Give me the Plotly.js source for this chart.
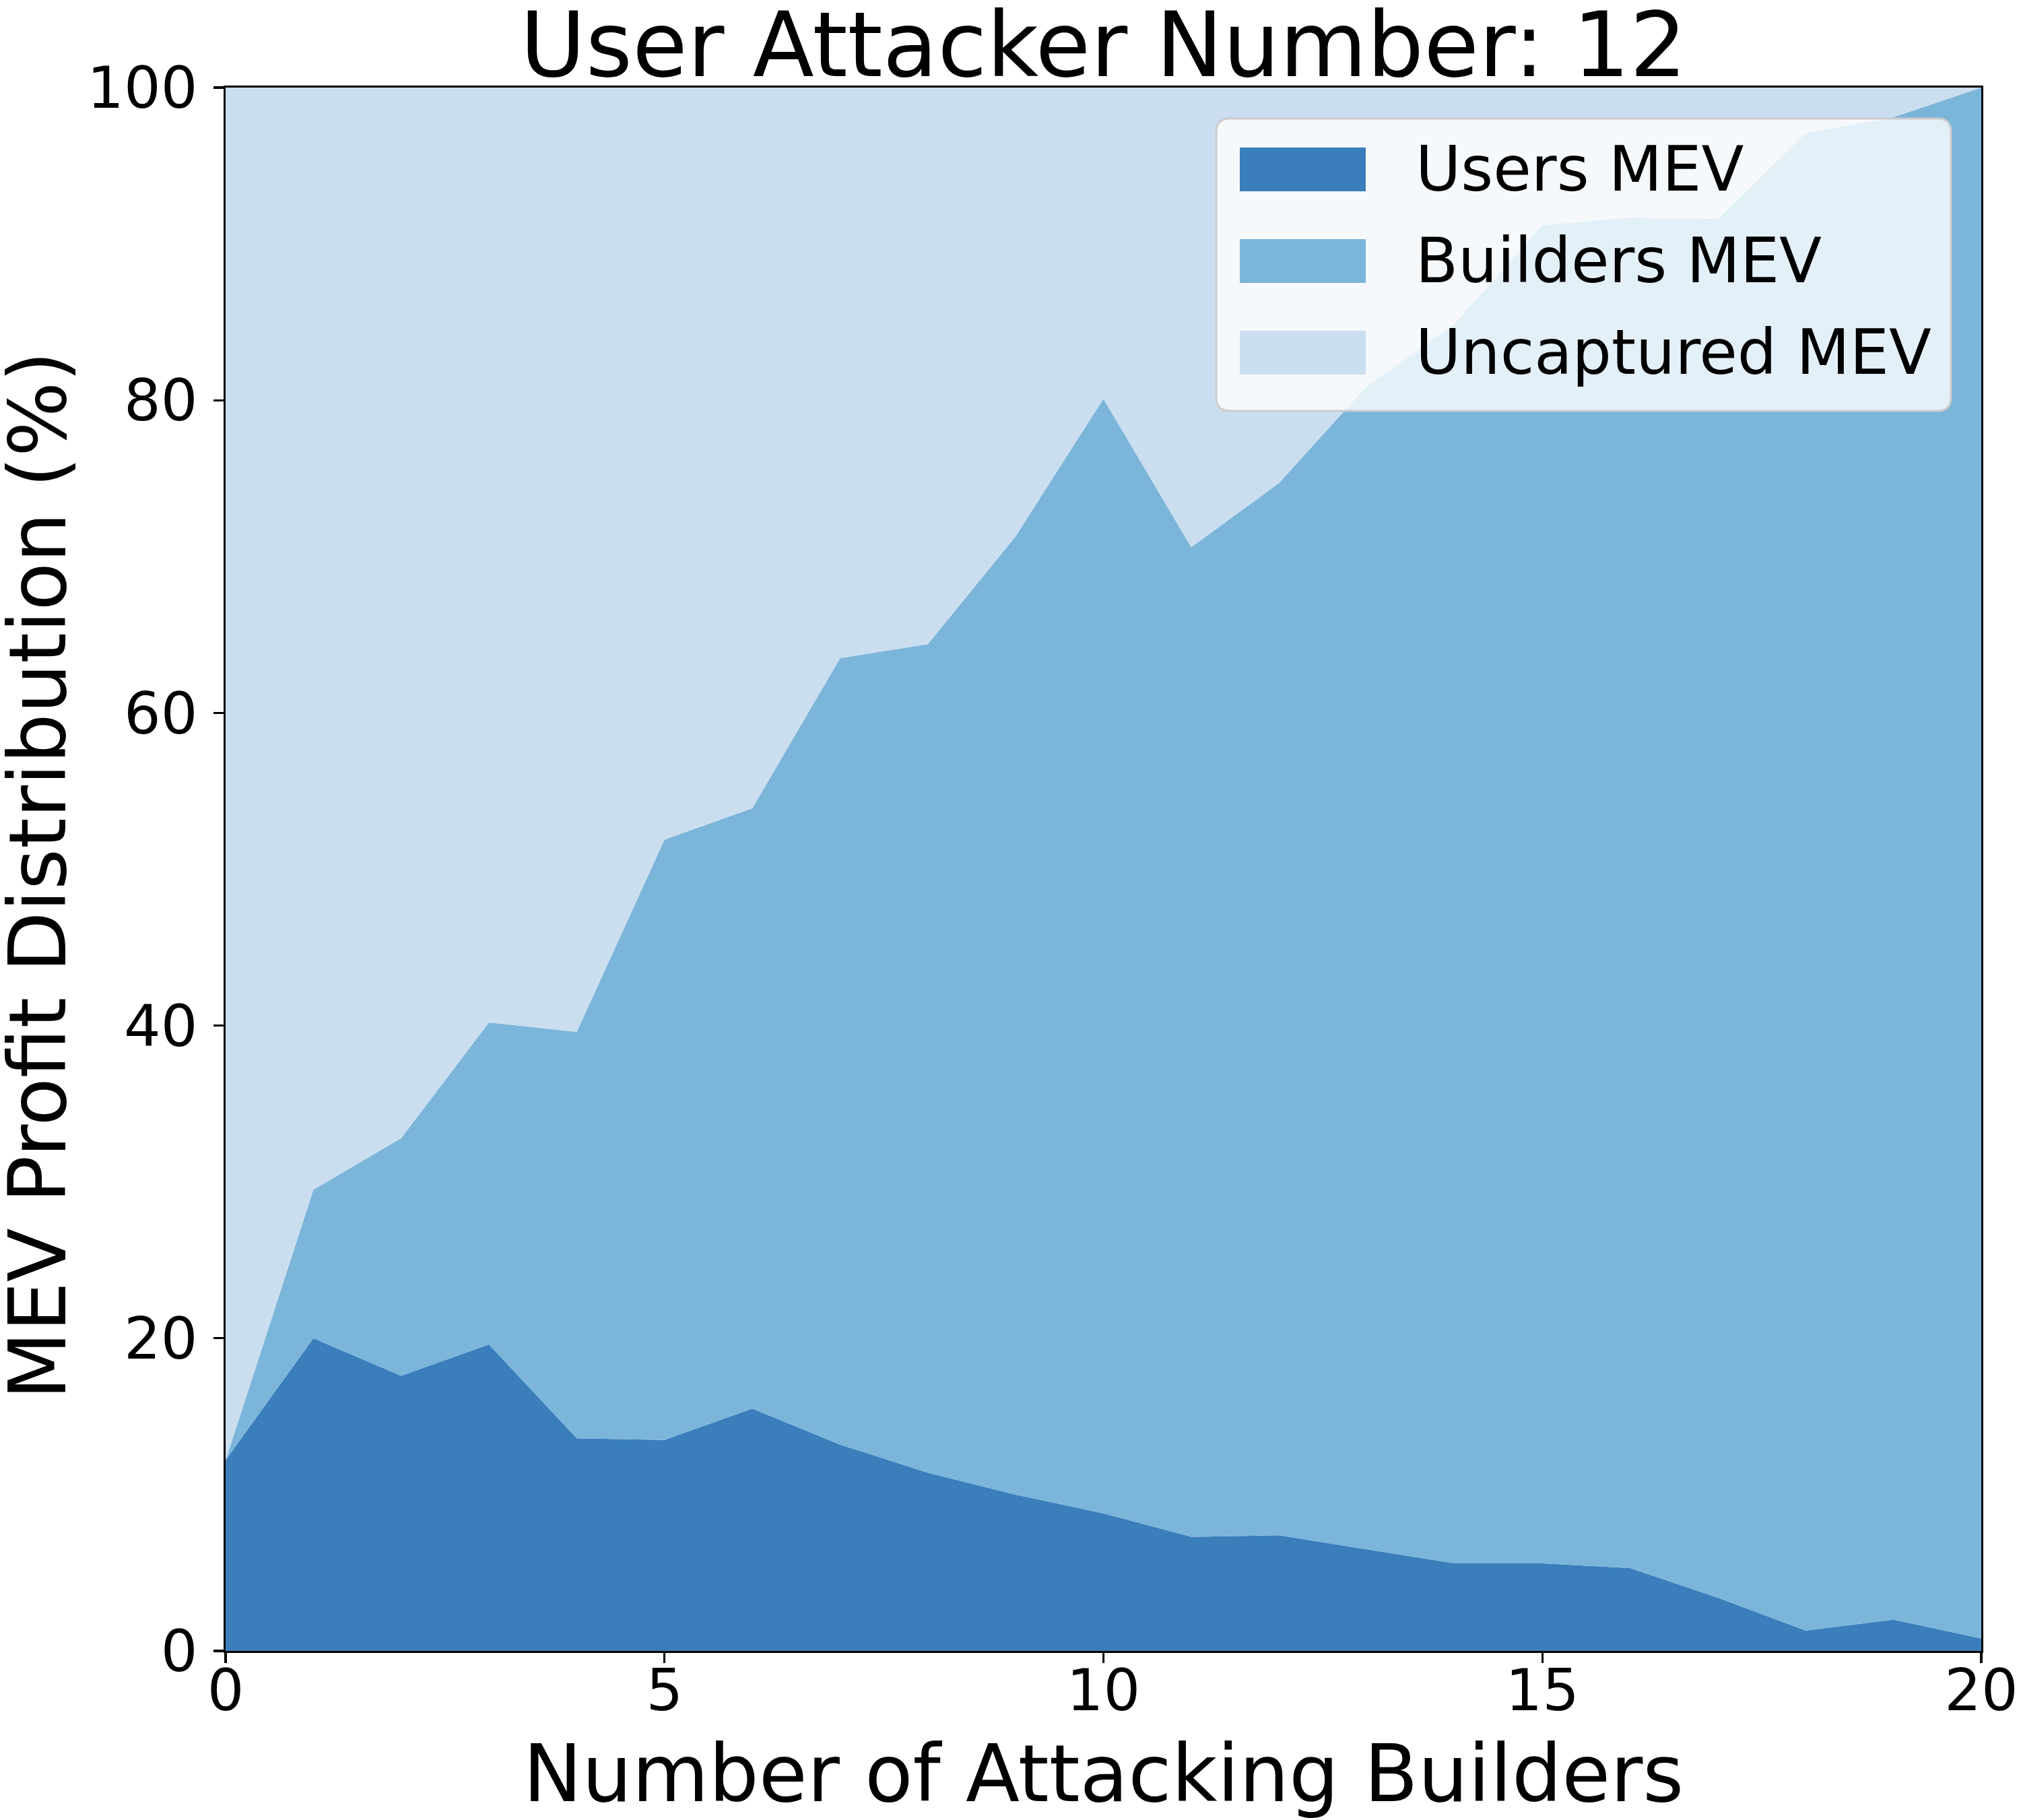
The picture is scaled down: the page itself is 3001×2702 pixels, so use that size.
<!DOCTYPE html>
<html>
<head>
<meta charset="utf-8">
<script src="https://cdn.plot.ly/plotly-3.0.1.min.js"></script>
<style>html,body{margin:0;padding:0;background:#fff;}#chart{width:3001px;height:2702px;}</style>
</head>
<body>
<div id="chart"></div>
<script>
// ---- data ----
const attackingBuilders = [0,1,2,3,4,5,6,7,8,9,10,11,12,13,14,15,16,17,18,19,20];
const usersMEV      = [12.2, 20.0, 17.6, 19.6, 13.6, 13.5, 15.5, 13.2, 11.4, 10.0, 8.8, 7.3, 7.4, 6.5, 5.6, 5.6, 5.3, 3.4, 1.3, 2.0, 0.8];
const buildersMEV   = [0.0, 9.5, 15.2, 20.6, 26.0, 38.4, 38.4, 50.3, 53.0, 61.3, 71.3, 63.3, 67.3, 74.4, 79.3, 85.6, 86.4, 88.2, 95.8, 96.1, 99.2];
const uncapturedMEV = [87.8, 70.5, 67.2, 59.8, 60.4, 48.1, 46.1, 36.5, 35.6, 28.7, 19.9, 29.4, 25.3, 19.1, 15.1, 8.8, 8.3, 8.4, 2.9, 1.9, 0.0];
const seriesNames = ["Users MEV", "Builders MEV", "Uncaptured MEV"];
const xTicks = [0, 5, 10, 15, 20];
const yTicks = [0, 20, 40, 60, 80, 100];
const titleText = "User Attacker Number: 12";
const xTitle = "Number of Attacking Builders";
const yTitle = "MEV Profit Distribution (%)";

// ---- styling ----
const colors = ["#3a7ebb", "#7bb5da", "#cbdeef"];
const FONT = "DejaVu Sans";
const W = 3001, H = 2702;
const L = 335, R = 2942, T = 130, B = 2451;
const px2x = p => (p - L) / (R - L);
const px2y = p => (B - p) / (B - T);

const seriesData = [usersMEV, buildersMEV, uncapturedMEV];
const traces = seriesData.map((vals, i) => ({
  type: "scatter",
  x: attackingBuilders,
  y: vals,
  name: seriesNames[i],
  stackgroup: "one",
  mode: "none",
  line: {width: 0},
  fillcolor: colors[i],
  showlegend: false,
  hoverinfo: "x+y+name"
}));

// custom legend (matplotlib style)
const lx0 = px2x(1806), lx1 = px2x(2897), ly0 = px2y(610), ly1 = px2y(176);
const rx = 20 / (R - L), ry = 20 / (B - T);
const boxPath = `M ${lx0+rx},${ly1} L ${lx1-rx},${ly1} Q ${lx1},${ly1} ${lx1},${ly1-ry} ` +
  `L ${lx1},${ly0+ry} Q ${lx1},${ly0} ${lx1-rx},${ly0} L ${lx0+rx},${ly0} Q ${lx0},${ly0} ${lx0},${ly0+ry} ` +
  `L ${lx0},${ly1-ry} Q ${lx0},${ly1} ${lx0+rx},${ly1} Z`;
const shapes = [{
  type: "path", xref: "paper", yref: "paper", path: boxPath,
  fillcolor: "rgba(255,255,255,0.8)", line: {color: "#cccccc", width: 3}, layer: "above"
}];
const patchTops = [219, 355, 491];
const annotations = [];
seriesNames.forEach((nm, i) => {
  const t = patchTops[i], b = t + 65;
  shapes.push({type: "rect", xref: "paper", yref: "paper",
    x0: px2x(1841), x1: px2x(2028), y0: px2y(b), y1: px2y(t),
    fillcolor: colors[i], line: {width: 0}, layer: "above"});
  annotations.push({xref: "paper", yref: "paper", x: px2x(2100), y: px2y((t + b) / 2),
    xanchor: "left", yanchor: "middle", text: nm, showarrow: false,
    font: {family: FONT, size: 92, color: "#000"}});
});
// y-axis title placed as in the reference (outside Plotly's margin constraint)
annotations.push({xref: "paper", yref: "paper", x: px2x(56), y: px2y(1300),
  xanchor: "center", yanchor: "middle", textangle: -90, text: yTitle, showarrow: false,
  font: {family: FONT, size: 117, color: "#000"}});

const layout = {
  width: W, height: H,
  margin: {l: L, r: W - R, t: T, b: H - B, pad: 0},
  paper_bgcolor: "#ffffff", plot_bgcolor: "#ffffff",
  font: {family: FONT, color: "#000"},
  title: {text: titleText, font: {family: FONT, size: 133, color: "#000"},
          x: 0.5, xref: "paper", xanchor: "center", y: 1 - 66 / H, yref: "container", yanchor: "middle"},
  xaxis: {
    range: [0, 20], tickvals: xTicks, ticktext: xTicks.map(String),
    ticks: "outside", ticklen: 15, tickwidth: 3.3, tickcolor: "#000",
    ticklabelstandoff: -34, ticklabeloverflow: "allow",
    showline: true, mirror: true, linecolor: "#000", linewidth: 3.3,
    showgrid: false, zeroline: false, automargin: false,
    tickfont: {family: FONT, size: 86, color: "#000"},
    title: {text: xTitle, font: {family: FONT, size: 117, color: "#000"}, standoff: 90}
  },
  yaxis: {
    range: [0, 100], tickvals: yTicks, ticktext: yTicks.map(String),
    ticks: "outside", ticklen: 15, tickwidth: 3.3, tickcolor: "#000",
    ticklabelstandoff: 6, ticklabeloverflow: "allow",
    showline: true, mirror: true, linecolor: "#000", linewidth: 3.3,
    showgrid: false, zeroline: false, automargin: false,
    tickfont: {family: FONT, size: 86, color: "#000"}
  },
  shapes: shapes,
  annotations: annotations,
  showlegend: false
};

Plotly.newPlot("chart", traces, layout, {staticPlot: true, displayModeBar: false});
</script>
</body>
</html>
